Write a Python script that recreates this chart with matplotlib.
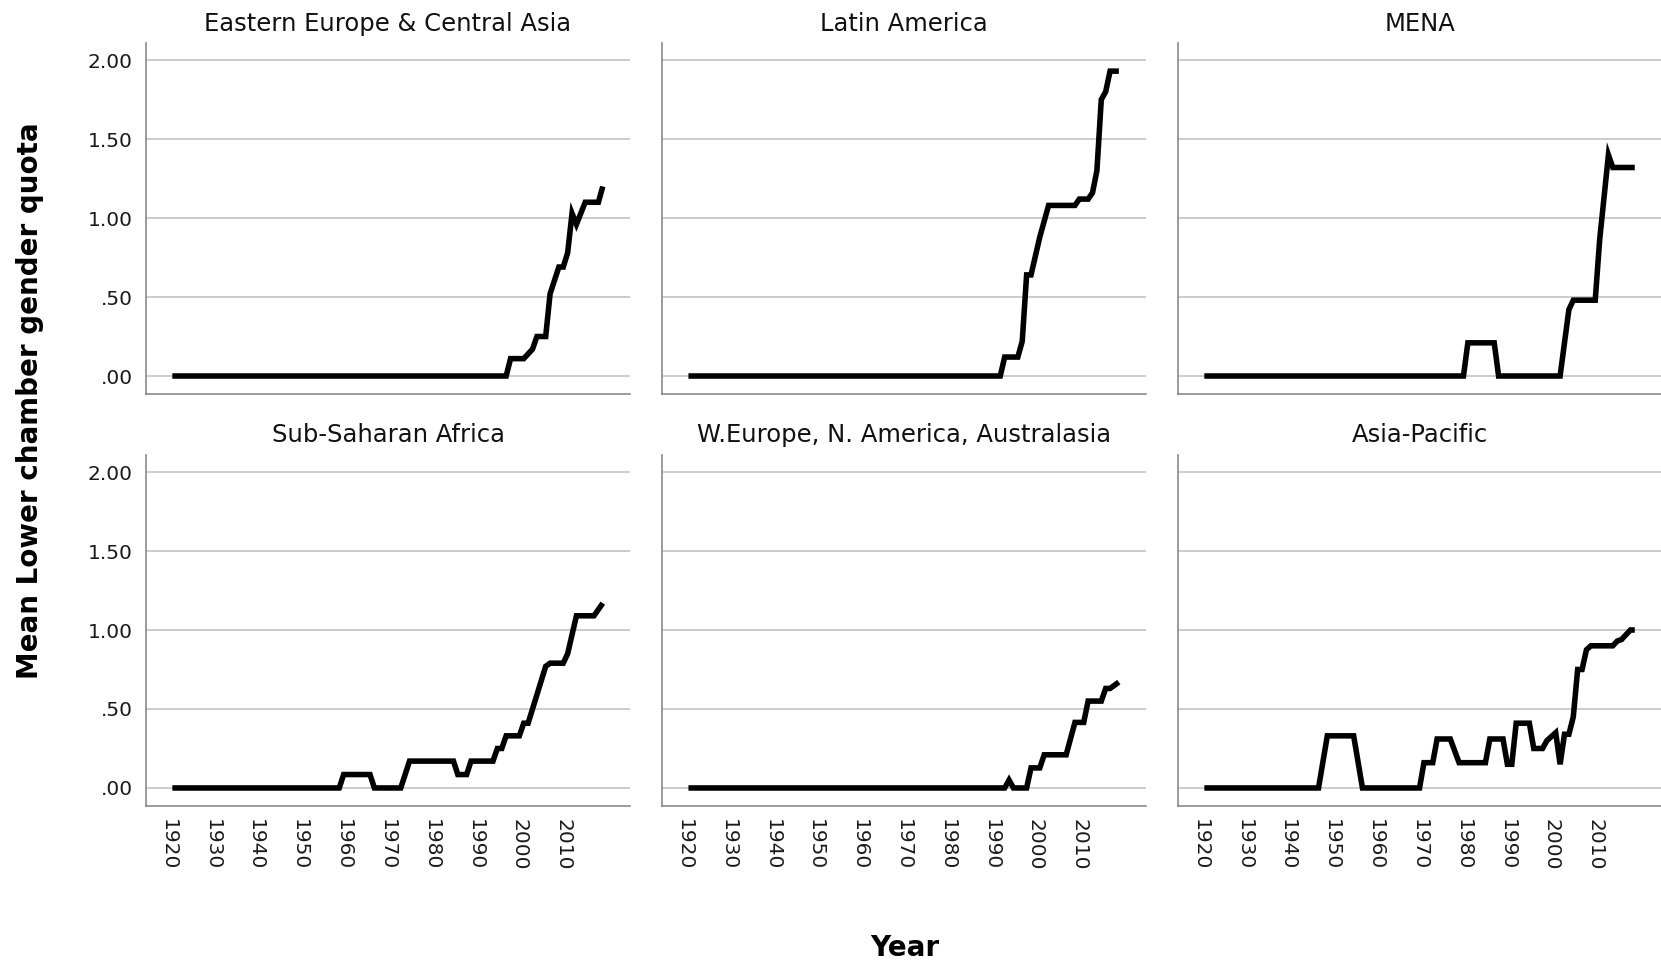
import matplotlib
matplotlib.use("Agg")
import matplotlib.pyplot as plt

# panel titles, in reading order
regions = ["Eastern Europe & Central Asia", "Latin America", "MENA",
           "Sub-Saharan Africa", "W.Europe, N. America, Australasia", "Asia-Pacific"]

# vertices of each mean line (year, mean quota)
ee_years = [1921, 1997, 1998, 2001, 2003, 2004, 2006, 2007, 2009, 2010, 2011, 2012, 2013, 2015, 2018, 2019]
ee_vals = [0, 0, 0.11, 0.11, 0.17, 0.25, 0.25, 0.52, 0.69, 0.69, 0.78, 1.03, 0.96, 1.10, 1.10, 1.20]

la_years = [1921, 1992, 1993, 1996, 1997, 1998, 1999, 2001, 2003, 2009, 2010, 2012, 2013, 2014, 2015, 2016, 2017, 2019]
la_vals = [0, 0, 0.12, 0.12, 0.22, 0.64, 0.64, 0.88, 1.08, 1.08, 1.12, 1.12, 1.16, 1.30, 1.75, 1.80, 1.93, 1.93]

mena_years = [1921, 1980, 1981, 1987, 1988, 2002, 2004, 2005, 2010, 2011, 2013, 2014, 2019]
mena_vals = [0, 0, 0.21, 0.21, 0, 0, 0.42, 0.48, 0.48, 0.86, 1.40, 1.32, 1.32]

ssa_years = [1921, 1959, 1960, 1966, 1967, 1973, 1975, 1985, 1986, 1988, 1989, 1994, 1995, 1996,
             1997, 2000, 2001, 2002, 2006, 2007, 2010, 2011, 2013, 2017, 2019]
ssa_vals = [0, 0, 0.085, 0.085, 0, 0, 0.17, 0.17, 0.085, 0.085, 0.17, 0.17, 0.25, 0.25,
            0.33, 0.33, 0.41, 0.41, 0.77, 0.79, 0.79, 0.85, 1.09, 1.09, 1.17]

we_years = [1921, 1993, 1994, 1995, 1998, 1999, 2001, 2002, 2007, 2009, 2011, 2012, 2015, 2016, 2017, 2019]
we_vals = [0, 0, 0.05, 0, 0, 0.127, 0.127, 0.21, 0.21, 0.415, 0.415, 0.55, 0.55, 0.63, 0.63, 0.67]

ap_years = [1921, 1947, 1949, 1955, 1957, 1970, 1971, 1973, 1974, 1977, 1979, 1985, 1986, 1989,
            1990, 1991, 1992, 1995, 1996, 1998, 1999, 2001, 2002, 2003, 2004, 2005, 2006, 2007,
            2008, 2009, 2014, 2015, 2016, 2018, 2019]
ap_vals = [0, 0, 0.33, 0.33, 0, 0, 0.16, 0.16, 0.31, 0.31, 0.16, 0.16, 0.31, 0.31,
           0.15, 0.15, 0.41, 0.41, 0.25, 0.25, 0.30, 0.35, 0.15, 0.34, 0.34, 0.45, 0.75, 0.75,
           0.875, 0.90, 0.90, 0.93, 0.94, 1.00, 1.00]

series = [(ee_years, ee_vals), (la_years, la_vals), (mena_years, mena_vals),
          (ssa_years, ssa_vals), (we_years, we_vals), (ap_years, ap_vals)]

x_ticks = [1920, 1930, 1940, 1950, 1960, 1970, 1980, 1990, 2000, 2010]
y_ticks = [0, 0.5, 1.0, 1.5, 2.0]
y_ticklabels = [".00", ".50", "1.00", "1.50", "2.00"]

fig = plt.figure(figsize=(16.61, 9.65), dpi=100)
plt.rcParams['font.family'] = ['DejaVu Sans']

lefts = [0.0879, 0.3986, 0.7092]
bottoms = [0.5917, 0.1648]
w, h = 0.2914, 0.3637

for i, (title, (xs, ys)) in enumerate(zip(regions, series)):
    row, col = divmod(i, 3)
    ax = fig.add_axes([lefts[col], bottoms[row], w, h])
    ax.plot(xs, ys, color='black', lw=4.0, solid_joinstyle='miter', solid_capstyle='butt')
    ax.set_xlim(1915, 2025.2)
    ax.set_ylim(-0.114, 2.108)
    ax.set_yticks(y_ticks)
    ax.set_xticks(x_ticks)
    ax.yaxis.grid(True, color='#c8c8c8', lw=1.3)
    ax.set_axisbelow(True)
    for s in ['top', 'right']:
        ax.spines[s].set_visible(False)
    for s in ['left', 'bottom']:
        ax.spines[s].set_color('#8a8a8a')
        ax.spines[s].set_linewidth(1.2)
    ax.tick_params(length=0, labelsize=14.5, colors='#1a1a1a', pad=9.5)
    if col == 0:
        ax.set_yticklabels(y_ticklabels)
    else:
        ax.set_yticklabels([])
    if row == 1:
        ax.set_xticklabels([str(t) for t in x_ticks], rotation=-90)
    else:
        ax.set_xticklabels([])
    ax.set_title(title, fontsize=17.5, pad=9, color='#111111')

fig.text(0.018, 1 - 401 / 965, "Mean Lower chamber gender quota", rotation=90,
         ha='center', va='center', fontsize=20, weight='bold')
fig.text(905 / 1661, 1 - 948 / 965, "Year", ha='center', va='center', fontsize=20, weight='bold')

fig.savefig("out.png", dpi=100)
